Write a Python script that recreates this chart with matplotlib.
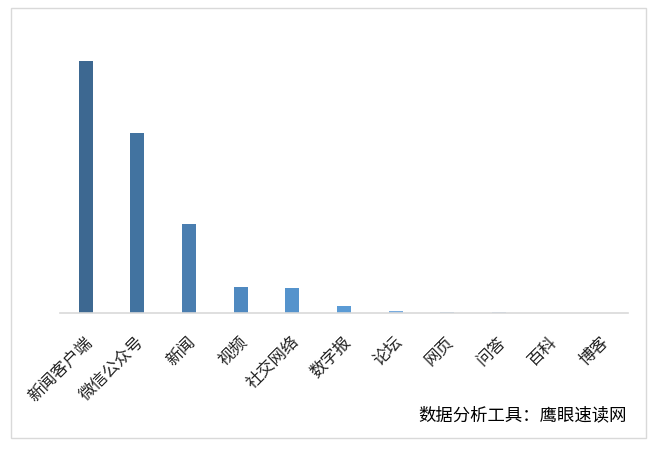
import matplotlib.pyplot as plt
import matplotlib.patches as patches
from matplotlib.transforms import ScaledTranslation

plt.rcParams['font.family'] = ['Noto Sans CJK SC', 'DejaVu Sans']

categories = ['新闻客户端', '微信公众号', '新闻', '视频', '社交网络', '数字报',
              '论坛', '网页', '问答', '百科', '博客']
values = [252, 180, 89, 26, 25, 7.3, 2.2, 1.5, 1.5, 0, 0]
colors = ['#3d6891', '#4273a0', '#4a7eb0', '#4f89c0', '#5593cc', '#5b9bd5',
          '#79acdf', '#9dbde3', '#b0c9e8', '#c5d8ee', '#d5e3f3']
source = '数据分析工具：鹰眼速读网'

W, H = 657, 449
fig = plt.figure(figsize=(W / 100, H / 100), dpi=100)
fig.patch.set_facecolor('white')

# outer chart border
fig.add_artist(patches.Rectangle((11 / W, 1 - 438 / H), 635 / W, 430 / H,
                                 transform=fig.transFigure, fill=False,
                                 edgecolor='#d9d9d9', linewidth=1))

ax = fig.add_axes([60 / W, 1 - 313 / H, 568 / W, 252 / H])
x = list(range(len(categories)))
ax.bar(x, values, width=0.27, color=colors)
ax.set_xlim(-0.5, len(categories) - 0.5)
ax.set_ylim(0, 252)
for s in ['top', 'right', 'left']:
    ax.spines[s].set_visible(False)
ax.spines['bottom'].set_color('#d9d9d9')
ax.spines['bottom'].set_linewidth(1.2)
ax.set_yticks([])
ax.set_xticks(x)
ax.set_xticklabels(categories, rotation=45, ha='right', va='center',
                   rotation_mode='anchor', fontsize=12, color='#222222')
ax.tick_params(axis='x', length=0, pad=19)
shift = ScaledTranslation(4 / 100, 0, fig.dpi_scale_trans)
for lbl in ax.get_xticklabels():
    lbl.set_transform(lbl.get_transform() + shift)

fig.text(627 / W, 1 - 415 / H, source, ha='right', va='center',
         fontsize=12.5, color='black')

fig.savefig('out.png', dpi=100)
